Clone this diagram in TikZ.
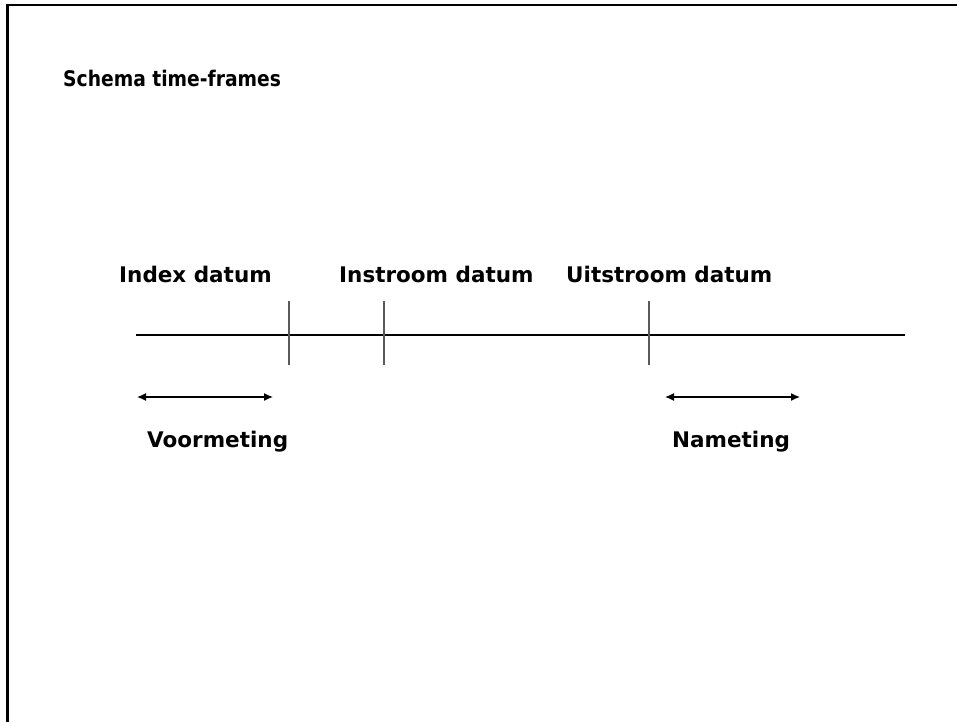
\documentclass[tikz,border=0pt]{standalone}
\usepackage{fontspec}
\setmainfont{DejaVu Sans}
\usepackage{xcolor}
\usetikzlibrary{positioning}
\usetikzlibrary{arrows.meta}
\definecolor{framecolor}{RGB}{0, 0, 0}
\definecolor{tickcolor}{RGB}{90, 90, 90}
\tikzstyle{frame} = [line width=2.5pt, framecolor]
\tikzstyle{timeline} = [line width=1.2pt, black]
\tikzstyle{tick} = [line width=1.2pt, tickcolor]
\tikzstyle{period} = [{Latex[length=9pt, width=8pt]}-{Latex[length=9pt, width=8pt]}, line width=1.3pt, black]
\tikzstyle{label} = [anchor=base west, inner sep=0pt, font=\fontsize{21.5}{25}\selectfont\bfseries]

\begin{document}
\begin{tikzpicture}[x=1pt, y=-1pt]
	\useasboundingbox (0, 0) rectangle (957, 722);

	%
	% Frame
	\coordinate (corner) at (7.5, 5);
	\draw[frame] (corner -| 957, 0) -- (corner) -- (corner |- 0, 722);

	% Title
	\node[label] (title) at (63, 87) {\scalebox{0.87}[1]{Schema time-frames}};

	%
	% Time line
	\coordinate (start) at (136, 335);
	\coordinate (end) at (905, 335);
	\draw[timeline] (start) -- (end);

	% Ticks
	\coordinate (index) at (289, 335);
	\coordinate (instroom) at (384, 335);
	\coordinate (uitstroom) at (649, 335);
	\draw[tick] ([yshift=34pt]index) -- ([yshift=-30pt]index);
	\draw[tick] ([yshift=34pt]instroom) -- ([yshift=-30pt]instroom);
	\draw[tick] ([yshift=34pt]uitstroom) -- ([yshift=-30pt]uitstroom);

	% Dates
	\node[label] (indexlabel) at (119, 282) {Index datum};
	\node[label] (instroomlabel) at (339, 282) {Instroom datum};
	\node[label] (uitstroomlabel) at (566, 282) {Uitstroom datum};

	%
	% Measurements
	\coordinate (voor-a) at (137, 397);
	\coordinate (voor-b) at (273, 397);
	\coordinate (na-a) at (665, 397);
	\coordinate (na-b) at (800, 397);
	\draw[period] (voor-a) -- (voor-b);
	\draw[period] (na-a) -- (na-b);

	\node[label] (voorlabel) at (147, 447) {Voormeting};
	\node[label] (nalabel) at (672, 447) {Nameting};

\end{tikzpicture}
\end{document}
